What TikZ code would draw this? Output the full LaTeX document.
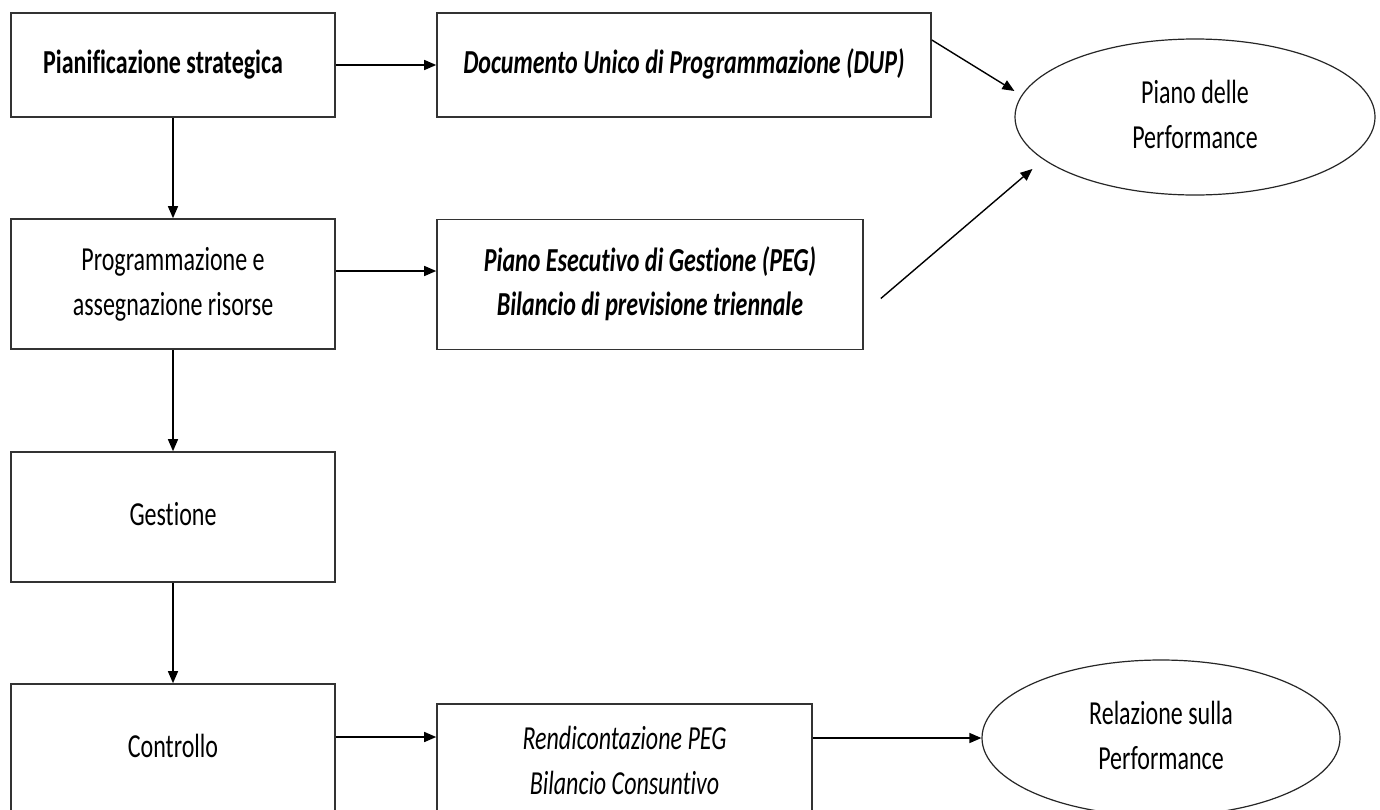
\documentclass[tikz,border=0pt]{standalone}
\usepackage{fontspec}
\setmainfont{Carlito}[Ligatures={NoCommon}]
\usetikzlibrary{arrows.meta,shapes.geometric}
\newcommand{\vs}[1]{\scalebox{1}[1.4]{\begin{tabular}{@{}c@{}}#1\end{tabular}}}
\tikzset{
  box/.style={draw=black!80, line width=1.6pt, rectangle, inner sep=0pt, font=\fontsize{24}{32}\selectfont},
  oval/.style={draw=black!85, line width=1.2pt, ellipse, inner sep=0pt, font=\fontsize{24}{32}\selectfont},
  arr/.style={draw=black, line width=1.4pt, -{Triangle[length=12pt,width=10pt]}}
}
\begin{document}
\begin{tikzpicture}[x=1pt,y=-1pt]
\useasboundingbox (0,0) rectangle (1380,809);
\clip (0,0) rectangle (1380,809);
\fill[white] (0,0) rectangle (1380,809);
% left column
\node[box, minimum width=324pt, minimum height=104pt] (b1) at (173,65) {\hspace*{-20pt}\vs{\bfseries Pianificazione strategica}};
\node[box, minimum width=324pt, minimum height=130pt] (b2) at (173,284) {\vs{Programmazione e\\assegnazione risorse}};
\node[box, minimum width=324pt, minimum height=130pt] (b3) at (173,517) {\vs{Gestione}};
\node[box, minimum width=324pt, minimum height=130pt] (b4) at (173,749) {\raisebox{-4pt}{\vs{Controllo}}};
% middle column
\node[box, minimum width=494pt, minimum height=104pt] (dup) at (684,65) {\vs{\bfseries\itshape Documento Unico di Programmazione (DUP)}};
\node[box, minimum width=426pt, minimum height=130pt] (peg) at (650,284.5) {\raisebox{-4pt}{\vs{\bfseries\itshape Piano Esecutivo di Gestione (PEG)\\\bfseries\itshape Bilancio di previsione triennale}}};
\node[box, minimum width=375pt, minimum height=118pt] (rend) at (624.5,763) {\vs{\itshape Rendicontazione PEG\\\itshape Bilancio Consuntivo}};
% ellipses
\node[oval, minimum width=360pt, minimum height=156pt] (ell1) at (1195,117) {\vs{Piano delle\\Performance}};
\node[oval, minimum width=358pt, minimum height=156pt] (ell2) at (1161,738) {\vs{Relazione sulla\\Performance}};
% vertical arrows
\draw[arr] (b1) -- (b2);
\draw[arr] (b2) -- (b3);
\draw[arr] (b3) -- (b4);
% horizontal arrows
\draw[arr] (b1.east) -- (dup.west);
\draw[arr] ([yshift=13pt]b2.east) -- ([yshift=13pt]b2.east -| peg.west);
\draw[arr] ([yshift=12pt]b4.east) -- ([yshift=12pt]b4.east -| rend.west);
\draw[arr] (ell2.west -| rend.east) -- (ell2.west);
% diagonal arrows
\draw[arr] ([yshift=25pt]dup.east) -- ([yshift=26pt]ell1.west);
\draw[arr] ([xshift=17pt,yshift=-14pt]peg.east) -- ([xshift=18pt,yshift=-52pt]ell1.west);
\end{tikzpicture}
\end{document}
